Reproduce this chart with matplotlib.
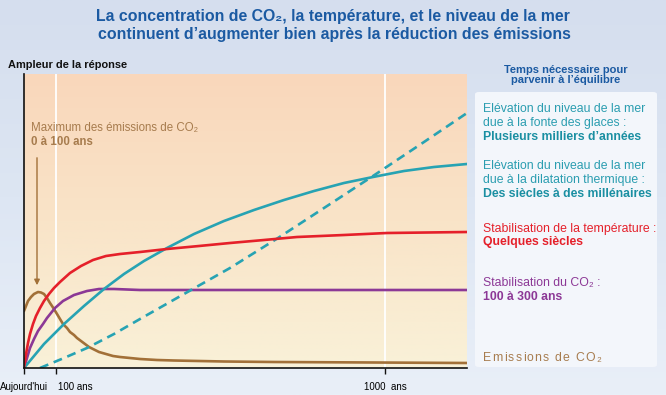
import numpy as np
import matplotlib
matplotlib.use("Agg")
import matplotlib.pyplot as plt
from matplotlib.patches import FancyBboxPatch
from matplotlib.colors import LinearSegmentedColormap
from matplotlib.transforms import ScaledTranslation

plt.rcParams['font.family'] = ['Liberation Sans', 'DejaVu Sans']

# ---------------- data (schematic time units, response magnitude) ----------------
tick_pos = [0, 32, 361]
tick_labels = ["Aujourd'hui", "100 ans", "1000  ans"]

emis_x = [0, 2, 4, 7, 10, 14, 17, 20, 23, 26, 30, 33, 36, 39, 43, 46, 50, 53, 57, 61, 65, 69,
          75, 82, 89, 96, 106, 116, 133, 150, 200, 250, 350, 443]
emis_y = [57, 62, 67, 71, 74, 76, 75.5, 74, 70, 65, 59, 54, 49, 44, 40, 36, 33, 30, 27, 24, 21, 19,
          16, 14, 12, 11, 10, 9, 8, 7.5, 6.5, 6, 5.5, 5]

temp_x = [0, 2, 4, 6, 9, 12, 16, 20, 25, 30, 36, 46, 57, 69, 82, 96, 116, 143, 175, 206, 240,
          273, 320, 363, 443]
temp_y = [0, 14, 25, 34, 44, 52, 60, 67, 74, 80, 86, 95, 102, 108, 112, 114, 116, 119, 122, 125,
          128, 131, 133, 135, 136]

co2_x = [0, 3, 6, 10, 14, 19, 23, 31, 39, 50, 63, 75, 90, 116, 200, 300, 443]
co2_y = [0, 10, 20, 29, 37, 44, 50, 60, 67, 73, 77, 79, 79, 78, 78, 78, 78]

therm_x = [0, 10, 20, 40, 60, 80, 100, 120, 143, 170, 200, 230, 260, 290, 320, 349, 380, 410, 443]
therm_y = [0, 12, 24, 44, 62, 79, 94, 107, 120, 134, 147, 158, 168, 177, 185, 191, 197, 201, 204]

ice_x = [16, 40, 63, 90, 116, 160, 206, 254, 300, 349, 400, 443]
ice_y = [0, 10, 20, 34, 49, 74, 100, 130, 160, 192, 226, 255]

# ---------------- styles ----------------
W, H = 666, 395
teal = '#27a3b3'
teal_txt = '#2a9db0'
teal_bold = '#1a8fa2'
red = '#e5202a'
purple = '#8c3896'
brown = '#a27038'
brown_txt = '#a77c4e'
title_col = '#1b5aa2'

fig = plt.figure(figsize=(W / 100, H / 100), dpi=100)

# figure background gradient
bg = fig.add_axes([0, 0, 1, 1], zorder=-10)
bg.axis('off')
cm_bg = LinearSegmentedColormap.from_list('bg', ['#d5deee', '#dde6f3', '#e9eff8'])
grad = np.linspace(0, 1, 256).reshape(-1, 1)
bg.imshow(grad, cmap=cm_bg, aspect='auto', extent=[0, 1, 0, 1], origin='upper')
bg.set_xlim(0, 1)
bg.set_ylim(0, 1)

# right panel box
box = FancyBboxPatch((475 / W, 1 - 367 / H), (657 - 475) / W, (367 - 92) / H,
                     boxstyle='round,pad=0,rounding_size=0.006',
                     transform=fig.transFigure, facecolor='#f3f6fb', edgecolor='none', zorder=-5)
fig.patches.append(box)

# main axes
ax = fig.add_axes([24 / W, 1 - 368 / H, 443 / W, 294 / H])
ax.set_xlim(0, 443)
ax.set_ylim(0, 294)
ax.patch.set_visible(False)
cm_plot = LinearSegmentedColormap.from_list('pl', ['#fad7bb', '#f9e4c8', '#f9f1d8'])
ax.imshow(grad, cmap=cm_plot, aspect='auto', extent=[0, 443, 0, 294], origin='upper', zorder=0)

for xv in tick_pos[1:]:
    ax.axvline(xv, color='white', lw=1.3, zorder=1)

lw = 1.9
kw = dict(lw=lw, solid_capstyle='round', solid_joinstyle='round')
ax.plot(emis_x, emis_y, color=brown, zorder=3, **kw)
ax.plot(co2_x, co2_y, color=purple, zorder=3, **kw)
ax.plot(temp_x, temp_y, color=red, zorder=4, **kw)
ax.plot(therm_x, therm_y, color=teal, zorder=3, **kw)
ax.plot(ice_x, ice_y, color=teal, lw=lw, ls=(0, (3.4, 2.2)), zorder=3)

for s in ['top', 'right']:
    ax.spines[s].set_visible(False)
for s in ['left', 'bottom']:
    ax.spines[s].set_color('#111111')
    ax.spines[s].set_linewidth(1.2)
    ax.spines[s].set_zorder(5)
ax.set_yticks([])
ax.set_xticks(tick_pos)
ax.set_xticklabels(tick_labels, fontsize=7)
ax.tick_params(axis='x', length=4, width=1.0, color='#111111', pad=6)
lbls = ax.get_xticklabels()
lbls[1].set_ha('left')
lbls[1].set_transform(lbls[1].get_transform() + ScaledTranslation(2 / 100, 0, fig.dpi_scale_trans))

# annotation: emission maximum
ax.text(7, 240, "Maximum des émissions de CO₂", color=brown_txt, fontsize=8.3, va='center', ha='left')
ax.text(7, 226, "0 à 100 ans", color=brown_txt, fontsize=8.3, va='center', ha='left', fontweight='bold')
ax.annotate('', xy=(13, 80), xytext=(13, 213),
            arrowprops=dict(arrowstyle='-|>', color=brown, lw=1.0, mutation_scale=8))

# titles
fig.text(333 / W, 1 - 17 / H, "La concentration de CO₂, la température, et le niveau de la mer",
         ha='center', va='center', fontsize=11.4, fontweight='bold', color=title_col)
fig.text(334 / W, 1 - 35 / H, "continuent d’augmenter bien après la réduction des émissions",
         ha='center', va='center', fontsize=11.4, fontweight='bold', color=title_col)
fig.text(8 / W, 1 - 65 / H, "Ampleur de la réponse", ha='left', va='center', fontsize=7.9,
         fontweight='bold', color='#111111')
fig.text(566 / W, 1 - 70 / H, "Temps nécessaire pour", ha='center', va='center', fontsize=8,
         fontweight='bold', color=title_col)
fig.text(566 / W, 1 - 80 / H, "parvenir à l’équilibre", ha='center', va='center', fontsize=8,
         fontweight='bold', color=title_col)

# right panel texts
def rtext(y, s, color, bold=False):
    fig.text(483 / W, 1 - y / H, s, ha='left', va='center', fontsize=8.8,
             fontweight='bold' if bold else 'normal', color=color)

rtext(109, "Elévation du niveau de la mer", teal_txt)
rtext(123, "due à la fonte des glaces :", teal_txt)
rtext(137, "Plusieurs milliers d’années", teal_bold, True)
rtext(166, "Elévation du niveau de la mer", teal_txt)
rtext(180, "due à la dilatation thermique :", teal_txt)
rtext(194, "Des siècles à des millénaires", teal_bold, True)
rtext(229, "Stabilisation de la température :", red)
rtext(242, "Quelques siècles", red, True)
rtext(283, "Stabilisation du CO₂ :", purple)
rtext(297, "100 à 300 ans", purple, True)

# letter-spaced "Emissions de CO2"
fig.canvas.draw()
renderer = fig.canvas.get_renderer()
xpix = 483.0
for ch in "Emissions de CO₂":
    t = fig.text(xpix / W, 1 - 358 / H, ch, ha='left', va='center', fontsize=8.8, color=brown_txt)
    if ch == ' ':
        wpx = 3.5
    else:
        wpx = t.get_window_extent(renderer=renderer).width
    xpix += wpx + 1.2

fig.savefig('out.png', dpi=100)
